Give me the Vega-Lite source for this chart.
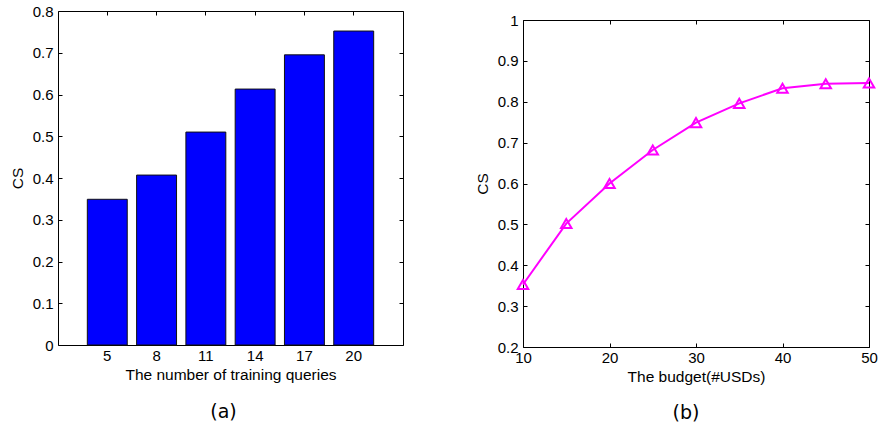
{
  "$schema": "https://vega.github.io/schema/vega-lite/v6.json",
  "padding": {"left": 9, "top": 3, "right": 0, "bottom": 0},
  "autosize": {"type": "pad"},
  "background": "white",
  "config": {
    "view": {"stroke": "black", "strokeWidth": 1},
    "axis": {
      "domain": false, "grid": false, "tickColor": "black", "tickSize": -4,
      "labelFont": "Liberation Sans", "labelFontSize": 15, "labelColor": "black",
      "titleFont": "Liberation Sans", "titleFontSize": 15.5, "titleFontWeight": "normal", "titleColor": "black",
      "labelPadding": 9
    }
  },
  "spacing": 70,
  "hconcat": [
    {
      "width": 345, "height": 334,
      "title": {"text": "(a)", "orient": "bottom", "anchor": "middle", "frame": "group", "font": "DejaVu Sans", "fontSize": 19, "fontWeight": "normal", "color": "black", "dx": -7, "offset": 20},
      "data": {"values": [
        {"queries": 5, "cs": 0.349},
        {"queries": 8, "cs": 0.407},
        {"queries": 11, "cs": 0.510},
        {"queries": 14, "cs": 0.613},
        {"queries": 17, "cs": 0.695},
        {"queries": 20, "cs": 0.752}
      ]},
      "layer": [
        {
          "mark": {"type": "bar", "color": "#0000ff", "stroke": "#111111", "strokeWidth": 1},
          "encoding": {
            "x": {"field": "queries", "type": "ordinal", "scale": {"paddingInner": 0.19, "paddingOuter": 0.595},
                  "axis": {"orient": "bottom", "labelAngle": 0, "labelPadding": 7, "title": "The number of training queries", "titlePadding": 4}},
            "y": {"field": "cs", "type": "quantitative", "scale": {"domain": [0, 0.8], "nice": false},
                  "axis": {"orient": "left", "values": [0, 0.1, 0.2, 0.3, 0.4, 0.5, 0.6, 0.7, 0.8], "format": ".1~f", "title": "CS", "titlePadding": 7}}
          }
        },
        {
          "mark": {"type": "bar", "opacity": 0},
          "encoding": {
            "x": {"field": "queries", "type": "ordinal", "axis": {"orient": "top", "labels": false, "title": null}},
            "y": {"field": "cs", "type": "quantitative", "axis": {"orient": "right", "labels": false, "title": null, "values": [0, 0.1, 0.2, 0.3, 0.4, 0.5, 0.6, 0.7, 0.8]}}
          }
        }
      ]
    },
    {
      "spacing": 0,
      "vconcat": [
        {
          "width": 346, "height": 1,
          "view": {"stroke": null},
          "data": {"values": [{}]},
          "mark": {"type": "rule", "opacity": 0},
          "encoding": {}
        },
        {
          "width": 346, "height": 327,
          "title": {"text": "(b)", "orient": "bottom", "anchor": "middle", "frame": "group", "font": "DejaVu Sans", "fontSize": 19, "fontWeight": "normal", "color": "black", "dx": -10, "offset": 19},
          "data": {"values": [
            {"budget": 10, "cs": 0.353},
            {"budget": 15, "cs": 0.502},
            {"budget": 20, "cs": 0.600},
            {"budget": 25, "cs": 0.682},
            {"budget": 30, "cs": 0.749},
            {"budget": 35, "cs": 0.796},
            {"budget": 40, "cs": 0.833},
            {"budget": 45, "cs": 0.844},
            {"budget": 50, "cs": 0.846}
          ]},
          "layer": [
            {
              "mark": {"type": "line", "color": "#ff00ff", "strokeWidth": 2},
              "encoding": {
                "x": {"field": "budget", "type": "quantitative", "scale": {"domain": [10, 50], "nice": false},
                      "axis": {"orient": "bottom", "values": [10, 20, 30, 40, 50], "format": "d", "labelFlush": false, "labelPadding": 7, "title": "The budget(#USDs)", "titlePadding": 4}},
                "y": {"field": "cs", "type": "quantitative", "scale": {"domain": [0.2, 1], "nice": false},
                      "axis": {"orient": "left", "values": [0.2, 0.3, 0.4, 0.5, 0.6, 0.7, 0.8, 0.9, 1], "format": ".1~f", "title": "CS", "titlePadding": 7}}
              }
            },
            {
              "mark": {"type": "point", "shape": "triangle-up", "filled": false, "color": "#ff00ff", "strokeWidth": 2, "size": 110, "opacity": 1},
              "encoding": {
                "x": {"field": "budget", "type": "quantitative",
                      "axis": {"orient": "top", "labels": false, "values": [10, 20, 30, 40, 50], "title": null}},
                "y": {"field": "cs", "type": "quantitative",
                      "axis": {"orient": "right", "labels": false, "title": null, "values": [0.2, 0.3, 0.4, 0.5, 0.6, 0.7, 0.8, 0.9, 1]}}
              }
            }
          ]
        }
      ]
    }
  ]
}
